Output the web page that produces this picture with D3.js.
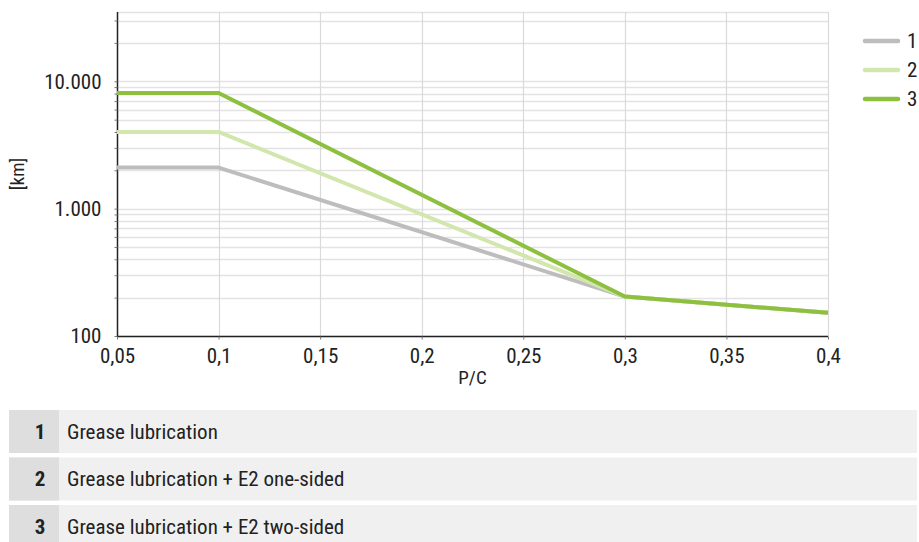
<!DOCTYPE html>
<html>
<head>
<meta charset="utf-8">
<script src="https://cdn.jsdelivr.net/npm/d3@7"></script>
<style>
  body { margin: 0; background: #fff; }
  svg { display: block; }
  .cond { font-family: "Roboto Condensed", "Liberation Sans Narrow", "Roboto", sans-serif; }
  .tbl { font-family: "Roboto Condensed", "Liberation Sans Narrow", "Roboto", sans-serif; }
</style>
</head>
<body>
<div id="chart"></div>
<script>
// data
var pc = [0.05, 0.1, 0.3, 0.4];
var grease = [2100, 2100, 204, 152];
var greaseOneSided = [4000, 4000, 204, 152];
var greaseTwoSided = [8100, 8100, 204, 152];
var seriesNames = ["1", "2", "3"];
var seriesLabels = ["Grease lubrication", "Grease lubrication + E2 one-sided", "Grease lubrication + E2 two-sided"];
var seriesColors = ["#bdbdbd", "#d3e6ad", "#8dc03f"];
var xTicks = [0.05, 0.1, 0.15, 0.2, 0.25, 0.3, 0.35, 0.4];
var yLabelTicks = [100, 1000, 10000];

var width = 919, height = 542;
var svg = d3.select("#chart").append("svg")
    .attr("width", width)
    .attr("height", height);

var x = d3.scaleLinear().domain([0.05, 0.4]).range([117, 828]);
var y = d3.scaleLog().domain([100, 35000]).range([336, 12]);

// minor grid values (every 1..9 of each decade)
var gridVals = [];
[100, 1000, 10000].forEach(function (d) {
    for (var k = 1; k < 10; k++) {
        if (d * k <= 35000) gridVals.push(d * k);
    }
});

// horizontal grid
svg.append("g").selectAll("line")
    .data(gridVals.concat([35000]))
    .enter().append("line")
    .attr("x1", x(0.05)).attr("x2", x(0.4))
    .attr("y1", function (d) { return Math.round(y(d)) + 0.5; })
    .attr("y2", function (d) { return Math.round(y(d)) + 0.5; })
    .attr("stroke", "#e3e3e3")
    .attr("stroke-width", 1.5);

// vertical grid
svg.append("g").selectAll("line")
    .data(xTicks.slice(1))
    .enter().append("line")
    .attr("x1", function (d) { return Math.round(x(d)) + 0.5; })
    .attr("x2", function (d) { return Math.round(x(d)) + 0.5; })
    .attr("y1", y(35000)).attr("y2", y(100))
    .attr("stroke", "#dadada")
    .attr("stroke-width", 1.2);

// y axis
var yAxis = d3.axisLeft(y)
    .tickValues(gridVals)
    .tickSize(3)
    .tickFormat(function (d) { return yLabelTicks.indexOf(d) >= 0 ? d3.format(",")(d).replace(/,/g, ".") : ""; });
var gy = svg.append("g")
    .attr("transform", "translate(" + (Math.round(x(0.05)) + 0.5) + ",0)")
    .call(yAxis);
gy.select(".domain").attr("stroke", "#222").attr("stroke-width", 1.5)
    .attr("d", "M0," + y(35000) + "V" + y(100));
gy.selectAll(".tick line").attr("stroke", "#777");
gy.selectAll(".tick text")
    .attr("class", "cond")
    .attr("x", -16)
    .attr("fill", "#222")
    .style("font-size", "21px");

// x axis
var xAxis = d3.axisBottom(x)
    .tickValues(xTicks)
    .tickSize(3)
    .tickFormat(function (d) { return String(d).replace(".", ","); });
var gx = svg.append("g")
    .attr("transform", "translate(0," + (Math.round(y(100)) + 0.5) + ")")
    .call(xAxis);
gx.select(".domain").attr("stroke", "#222").attr("stroke-width", 1.5)
    .attr("d", "M" + x(0.05) + ",0H" + x(0.4));
gx.selectAll(".tick line").attr("stroke", "#777");
gx.selectAll(".tick text")
    .attr("class", "cond")
    .attr("y", 12)
    .attr("fill", "#222")
    .style("font-size", "21px");

// axis titles
svg.append("text")
    .attr("class", "cond")
    .attr("x", (x(0.05) + x(0.4)) / 2)
    .attr("y", 384)
    .attr("text-anchor", "middle")
    .attr("fill", "#222")
    .style("font-size", "19px")
    .text("P/C");

svg.append("text")
    .attr("class", "cond")
    .attr("transform", "translate(24,174) rotate(-90)")
    .attr("text-anchor", "middle")
    .attr("fill", "#222")
    .style("font-size", "19px")
    .text("[km]");

// lines
var allSeries = [grease, greaseOneSided, greaseTwoSided];
var line = d3.line()
    .x(function (d, i) { return x(pc[i]); })
    .y(function (d) { return y(d); });

svg.append("g").selectAll("path")
    .data(allSeries)
    .enter().append("path")
    .attr("d", line)
    .attr("fill", "none")
    .attr("stroke", function (d, i) { return seriesColors[i]; })
    .attr("stroke-width", 4)
    .attr("stroke-linejoin", "round");

// legend top right
var leg = svg.append("g").selectAll("g")
    .data(seriesNames)
    .enter().append("g")
    .attr("transform", function (d, i) { return "translate(865," + (41 + i * 29) + ")"; });
leg.append("line")
    .attr("x1", 0).attr("x2", 33)
    .attr("stroke", function (d, i) { return seriesColors[i]; })
    .attr("stroke-width", 4.5)
    .attr("stroke-linecap", "round");
leg.append("text")
    .attr("class", "cond")
    .attr("x", 42)
    .attr("dy", "0.35em")
    .attr("fill", "#222")
    .style("font-size", "21px")
    .text(function (d) { return d; });

// table below
var rows = svg.append("g").selectAll("g")
    .data(seriesLabels)
    .enter().append("g")
    .attr("transform", function (d, i) { return "translate(9," + (410 + i * 47.5) + ")"; });
rows.append("rect")
    .attr("width", 908).attr("height", 43)
    .attr("fill", "#f0f0f0");
rows.append("rect")
    .attr("width", 50).attr("height", 43)
    .attr("fill", "#dedede");
rows.append("text")
    .attr("class", "tbl")
    .attr("x", 31).attr("y", 21.5)
    .attr("dy", "0.35em")
    .attr("text-anchor", "middle")
    .attr("font-weight", "bold")
    .attr("fill", "#222")
    .style("font-size", "21px")
    .text(function (d, i) { return seriesNames[i]; });
rows.append("text")
    .attr("class", "tbl")
    .attr("x", 58).attr("y", 21.5)
    .attr("dy", "0.35em")
    .attr("fill", "#222")
    .style("font-size", "21px")
    .text(function (d) { return d; });
</script>
</body>
</html>
